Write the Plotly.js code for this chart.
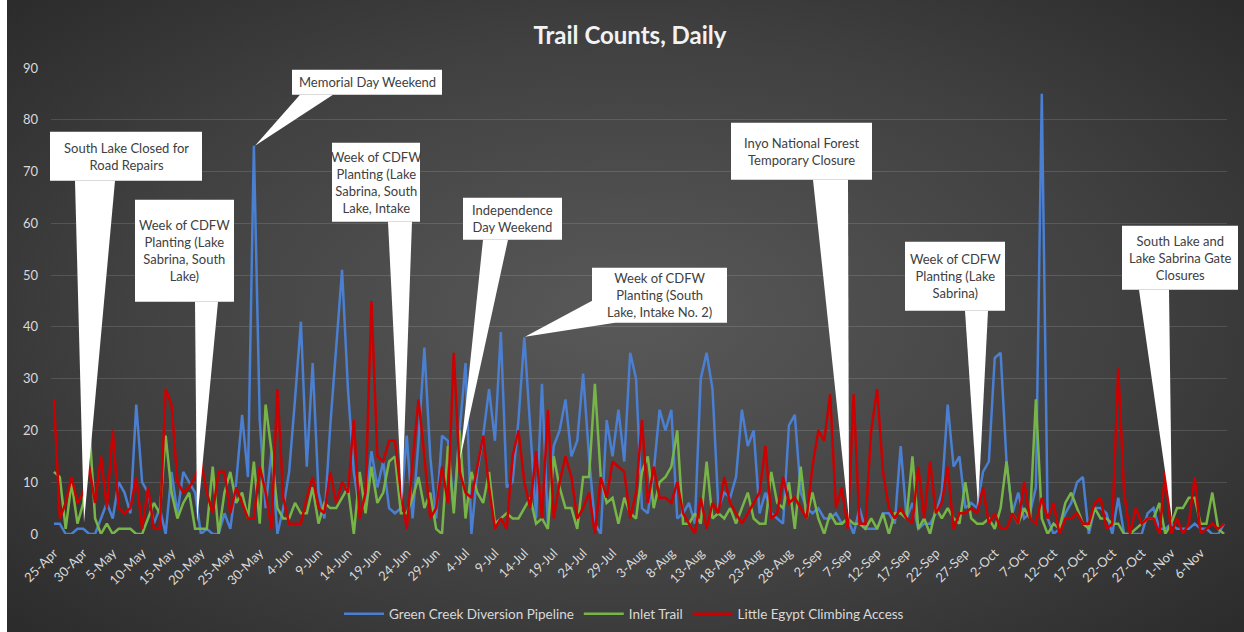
<!DOCTYPE html>
<html><head><meta charset="utf-8">
<script src="https://cdn.plot.ly/plotly-3.0.1.min.js"></script>
<style>
html,body{margin:0;padding:0;background:#ffffff;width:1244px;height:632px;overflow:hidden;}
#wrap{position:absolute;left:7px;top:0;width:1237px;height:632px;
 background:radial-gradient(ellipse 75% 80% at 50% 50%, #595959 0%, #404040 55%, #262626 100%);}
#chart{width:1237px;height:632px;}
</style></head><body><div id="wrap"><div id="chart"></div></div>
<script>
// ---- data ----
const START_DATE = '2023-04-25';
const SERIES_NAMES = ['Green Creek Diversion Pipeline', 'Inlet Trail', 'Little Egypt Climbing Access'];
const GREEN_CREEK = [
 2,2,0,0,1,1,0,0,3,6, 3,10,8,4,25,10,8,2,5,0, 12,4,12,10,8,0,1,0,0,4,
 1,10,23,11,75,22,5,16,0,5, 12,26,41,13,33,8,3,21,37,51, 28,12,4,6,16,9,14,5,4,5,
 19,3,18,36,15,3,19,18,5,20, 33,0,12,19,28,18,39,9,10,22, 38,20,3,29,2,17,20,26,15,18,
 31,15,2,0,22,15,24,14,35,30, 5,4,12,24,20,24,3,4,6,2, 30,35,28,5,8,7,11,24,17,20,
 4,8,4,3,2,21,23,8,5,4, 5,3,3,4,2,3,0,5,1,1, 1,4,4,2,17,3,6,1,2,2,
 4,8,25,13,15,5,6,5,12,14, 34,35,14,4,8,3,4,9,85,3, 0,1,4,6,10,11,0,5,5,4,
 0,7,0,0,0,0,4,5,1,1, 2,1,1,1,2,1,1,0,0,2
];
const INLET_TRAIL = [
 12,11,1,10,2,6,21,3,0,2, 0,1,1,1,0,0,3,6,4,19, 8,3,6,8,1,1,1,13,0,8,
 12,6,8,3,14,2,25,16,5,3, 3,6,4,4,9,2,6,5,5,7, 9,0,12,4,13,6,8,14,15,4,
 4,7,11,5,8,1,0,17,4,20, 3,12,8,6,12,2,3,4,3,3, 5,7,2,3,1,15,9,5,5,1,
 11,11,29,11,6,7,2,7,4,3, 12,15,5,10,11,13,20,2,2,4, 2,14,3,4,3,5,2,5,8,3,
 2,2,12,6,5,10,1,13,3,8, 3,0,4,2,2,3,2,2,1,3, 1,4,0,4,4,3,15,1,3,0,
 5,3,5,3,2,10,3,2,2,3, 1,5,14,4,2,5,3,26,3,0, 2,1,6,8,5,2,1,5,3,3,
 2,2,0,0,1,2,3,3,6,0, 2,5,5,7,7,2,2,8,1,0
];
const LITTLE_EGYPT = [
 26,3,6,11,6,8,13,6,15,5, 20,5,4,5,11,1,9,1,1,28, 25,10,8,9,11,14,8,4,12,12,
 4,9,6,3,3,13,8,1,28,7, 2,2,2,7,11,5,4,12,6,10, 8,22,3,8,45,15,14,18,18,8,
 1,14,26,15,3,5,13,6,35,12, 8,7,13,19,9,1,3,1,15,20, 10,5,16,3,24,3,10,15,11,3,
 5,8,0,11,7,14,13,12,3,8, 22,6,13,7,7,6,10,4,2,0, 7,1,6,4,11,6,4,2,4,6,
 8,17,3,4,11,6,7,5,3,13, 20,18,27,5,9,1,27,2,2,20, 28,12,5,3,5,3,2,13,3,14,
 4,6,13,1,4,4,5,4,9,2, 4,1,1,4,2,10,3,2,7,3, 6,0,3,3,4,2,2,6,7,1,
 2,32,8,0,5,2,3,3,0,12, 0,3,0,2,11,0,1,2,1,2
];
const CALLOUT_TEXTS = [
 'South Lake Closed for<br>Road Repairs',
 'Week of CDFW<br>Planting (Lake<br>Sabrina, South<br>Lake)',
 'Memorial Day Weekend',
 'Week of CDFW<br>Planting (Lake<br>Sabrina, South<br>Lake, Intake',
 'Independence<br>Day Weekend',
 'Week of CDFW<br>Planting (South<br>Lake, Intake No. 2)',
 'Inyo National Forest<br>Temporary Closure',
 'Week of CDFW<br>Planting (Lake<br>Sabrina)',
 'South Lake and<br>Lake Sabrina Gate<br>Closures'
];

// category axis: one entry per day
const DATES = [];
(function(){
  const t0 = Date.parse(START_DATE + 'T00:00:00Z');
  for (let i = 0; i < GREEN_CREEK.length; i++) {
    DATES.push(new Date(t0 + i*86400000).toISOString().slice(0,10));
  }
})();

// ---- layout geometry (pixel positions in the picture) ----
const PLOT = {left:51, right:1227, top:68.3, bottom:534.3};
const px = x => (x - PLOT.left) / (PLOT.right - PLOT.left);
const py = y => (PLOT.bottom - y) / (PLOT.bottom - PLOT.top);
const BOXES = [
 {x0:50,  x1:202,  y0:132, y1:181, w:[[75,181],[115,181],[84,523]]},
 {x0:135, x1:234,  y0:200, y1:302, w:[[195,302],[218,302],[197,523]]},
 {x0:292, x1:442,  y0:70,  y1:95,  w:[[300,95],[333,95],[255,146]]},
 {x0:332, x1:420,  y0:143, y1:222, w:[[388,222],[412,222],[402,503]]},
 {x0:463, x1:562,  y0:198, y1:240, w:[[483,240],[508,240],[460,460]]},
 {x0:592, x1:727,  y0:268, y1:323, w:[[594,300],[615,323],[525,337]]},
 {x0:731, x1:872,  y0:123, y1:180, w:[[813,180],[848,180],[849,520]]},
 {x0:905, x1:1005, y0:242, y1:311, w:[[965,311],[988,311],[978,507]]},
 {x0:1122,x1:1238, y0:226, y1:290, w:[[1139,290],[1169,290],[1172,520]]}
];

const shapes = [];
const annotations = [];
BOXES.forEach((b, i) => {
  const p = b.w.map(q => px(q[0]).toFixed(5) + ',' + py(q[1]).toFixed(5));
  shapes.push({type:'path', xref:'paper', yref:'paper', layer:'above',
    path:'M' + p[0] + ' L' + p[1] + ' L' + p[2] + ' Z',
    fillcolor:'#ffffff', line:{width:0}});
  shapes.push({type:'rect', xref:'paper', yref:'paper', layer:'above',
    x0:px(b.x0), x1:px(b.x1), y0:py(b.y1), y1:py(b.y0),
    fillcolor:'#ffffff', line:{width:0}});
  annotations.push({xref:'paper', yref:'paper', x:px((b.x0+b.x1)/2), y:py((b.y0+b.y1)/2),
    xanchor:'center', yanchor:'middle', showarrow:false, align:'center',
    text:CALLOUT_TEXTS[i], font:{family:'Lato, sans-serif', size:13, color:'#404040'}});
});

const COLORS = ['#4a7fd1', '#78b548', '#cc0000'];
const SERIES = [GREEN_CREEK, INLET_TRAIL, LITTLE_EGYPT];
const traces = SERIES.map((vals, i) => ({
  type:'scatter', mode:'lines', name:SERIES_NAMES[i], x:DATES, y:vals,
  line:{color:COLORS[i], width:2.5}
}));

const layout = {
  width:1237, height:632,
  margin:{l:44, r:17, t:68, b:98, autoexpand:false},
  paper_bgcolor:'rgba(0,0,0,0)', plot_bgcolor:'rgba(0,0,0,0)',
  font:{family:'Lato, sans-serif', color:'#d9d9d9', size:13},
  title:{text:'<b>Trail Counts, Daily</b>', x:(630-7)/1237, xref:'container', xanchor:'center',
    y:1-36/632, yref:'container', yanchor:'middle',
    font:{family:'Lato, sans-serif', size:24, color:'#f2f2f2'}},
  xaxis:{type:'date', range:['2023-04-24 12:00','2023-11-10 12:00'],
    tick0:'2023-04-25', dtick:5*86400000, tickformat:'%-d-%b', tickangle:-45,
    showgrid:false, zeroline:false, showline:false, ticks:'', automargin:false,
    tickfont:{size:13, color:'#d9d9d9'}, ticklabelstandoff:8},
  yaxis:{range:[0,90], dtick:10, showgrid:true, gridcolor:'rgba(255,255,255,0.13)', gridwidth:1,
    zeroline:false, showline:false, ticks:'', automargin:false,
    tickfont:{size:13, color:'#d9d9d9'}, ticklabelstandoff:12},
  showlegend:true,
  legend:{orientation:'h', xref:'container', x:(624-7)/1237, xanchor:'center',
    yref:'container', y:1-614/632, yanchor:'middle',
    font:{size:13.5, color:'#d9d9d9'}, bgcolor:'rgba(0,0,0,0)', itemwidth:40},
  hovermode:false,
  shapes:shapes,
  annotations:annotations
};

Plotly.newPlot('chart', traces, layout, {staticPlot:true, displayModeBar:false});
</script></body></html>
